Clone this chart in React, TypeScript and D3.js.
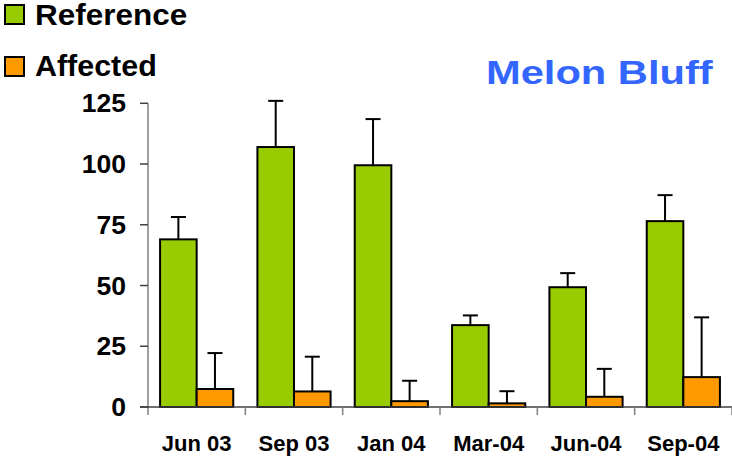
import React from "react";
import * as d3 from "d3";

const categories = ["Jun 03", "Sep 03", "Jan 04", "Mar-04", "Jun-04", "Sep-04"];
const seriesNames = ["Reference", "Affected"];
const referenceValues = [69, 107, 99.5, 33.7, 49.3, 76.5];
const referenceErrors = [9.2, 19, 19, 4, 5.8, 10.7];
const affectedValues = [7.4, 6.4, 2.4, 1.5, 4.2, 12.3];
const affectedErrors = [14.8, 14.3, 8.4, 5, 11.5, 24.6];
const yTicks = [0, 25, 50, 75, 100, 125];
const colors = ["#99CC00", "#FF9900"];
const title = "Melon Bluff";

const W = 732;
const H = 461;
const FONT = "'Liberation Sans', Arial, Helvetica, sans-serif";

export default function App() {
  const x = d3.scaleBand<string>().domain(categories).range([148, 732]).padding(0);
  const inner = d3
    .scaleBand<string>()
    .domain(seriesNames)
    .range([0, x.bandwidth()])
    .paddingInner(0)
    .paddingOuter(0.33);
  const y = d3.scaleLinear().domain([0, 125]).range([407, 103.3]);

  const series = [
    { name: seriesNames[0], values: referenceValues, errors: referenceErrors, color: colors[0] },
    { name: seriesNames[1], values: affectedValues, errors: affectedErrors, color: colors[1] },
  ];
  const legendStretch = [1.085, 1.05];

  const capHalf = 7.5;
  const x0 = x.range()[0];
  const x1 = x.range()[1];

  return (
    <svg
      width={W}
      height={H}
      style={{ position: "absolute", left: 0, top: 0, background: "#fff" }}
      fontFamily={FONT}
    >
      {/* legend */}
      {series.map((s, i) => (
        <g key={s.name}>
          <rect x={5} y={5 + i * 52} width={19} height={19} fill={s.color} stroke="#000" strokeWidth={2} />
          <text
            transform={`translate(35,${25 + i * 51}) scale(${legendStretch[i]},1)`}
            fontSize={29}
            fontWeight="bold"
            fill="#000"
          >
            {s.name}
          </text>
        </g>
      ))}

      {/* title */}
      <text
        transform="translate(486,83.5) scale(1.225,1)"
        fontSize={34}
        fontWeight="bold"
        fill="#3366FF"
      >
        {title}
      </text>

      {/* error bars (behind bars) */}
      {series.map((s) =>
        categories.map((c, i) => {
          const cx = (x(c) as number) + (inner(s.name) as number) + inner.bandwidth() / 2;
          const top = y(s.values[i] + s.errors[i]);
          return (
            <g key={s.name + c + "err"} stroke="#000" strokeWidth={2}>
              <line x1={cx} x2={cx} y1={y(s.values[i])} y2={top} />
              <line x1={cx - capHalf} x2={cx + capHalf} y1={top} y2={top} />
            </g>
          );
        })
      )}

      {/* bars */}
      {series.map((s) =>
        categories.map((c, i) => (
          <rect
            key={s.name + c}
            x={(x(c) as number) + (inner(s.name) as number)}
            y={y(s.values[i])}
            width={inner.bandwidth()}
            height={y(0) - y(s.values[i])}
            fill={s.color}
            stroke="#000"
            strokeWidth={2}
          />
        ))
      )}

      {/* y axis */}
      <line x1={x0} x2={x0} y1={y(125)} y2={y(0) + 8} stroke="#808080" strokeWidth={1.5} />
      {yTicks.map((t) => (
        <g key={t}>
          <line x1={x0 - 8} x2={x0} y1={y(t)} y2={y(t)} stroke="#404040" strokeWidth={1.5} />
          <text x={126} y={y(t) + 9} textAnchor="end" fontSize={26.5} fontWeight="bold" fill="#000">
            {t}
          </text>
        </g>
      ))}

      {/* x axis */}
      <line x1={x0 - 8} x2={x1} y1={y(0)} y2={y(0)} stroke="#404040" strokeWidth={1.5} />
      {categories.map((c) => (
        <line
          key={c + "tick"}
          x1={(x(c) as number) + x.bandwidth()}
          x2={(x(c) as number) + x.bandwidth()}
          y1={y(0)}
          y2={y(0) + 8}
          stroke="#808080"
          strokeWidth={1.5}
        />
      ))}
      {categories.map((c) => (
        <text
          key={c + "lab"}
          x={(x(c) as number) + x.bandwidth() / 2}
          y={451}
          textAnchor="middle"
          fontSize={22}
          fontWeight="bold"
          fill="#000"
        >
          {c}
        </text>
      ))}
    </svg>
  );
}
